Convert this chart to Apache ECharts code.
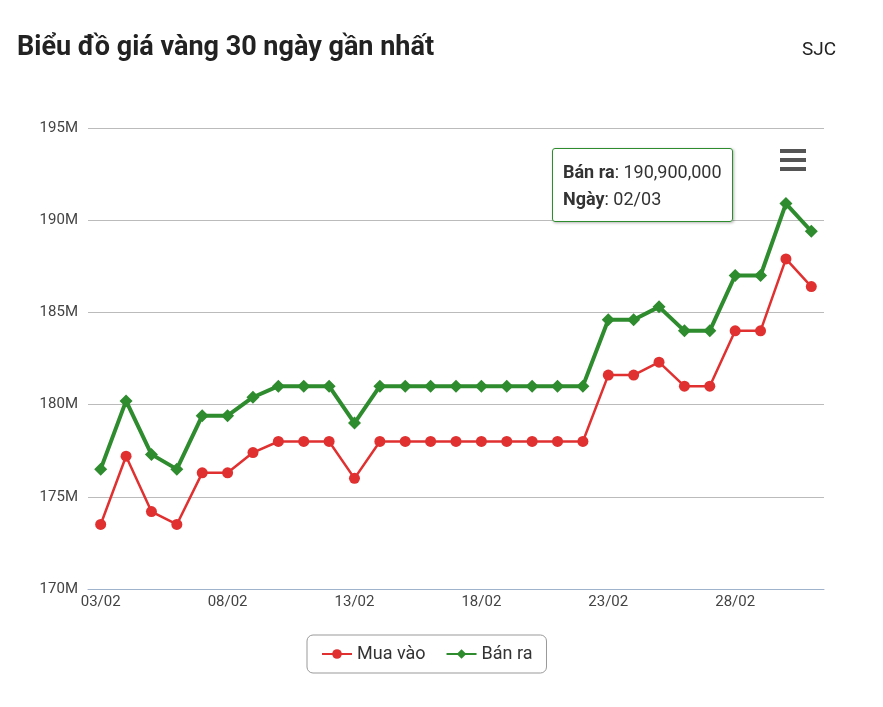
<!DOCTYPE html>
<html><head><meta charset="utf-8">
<script src="https://cdn.jsdelivr.net/npm/echarts@6/dist/echarts.min.js"></script>
<style>html,body{margin:0;padding:0;background:#fff}#c{width:883px;height:707px}</style>
</head><body><div id="c"></div>
<script>
const categories = ["03/02","04/02","05/02","06/02","07/02","08/02","09/02","10/02","11/02","12/02","13/02","14/02","15/02","16/02","17/02","18/02","19/02","20/02","21/02","22/02","23/02","24/02","25/02","26/02","27/02","28/02","01/03","02/03","03/03"];
const muaVao = [173.5,177.2,174.2,173.5,176.3,176.3,177.4,178,178,178,176,178,178,178,178,178,178,178,178,178,181.6,181.6,182.3,181,181,184,184,187.9,186.4];
const banRa = [176.5,180.2,177.3,176.5,179.4,179.4,180.4,181,181,181,179,181,181,181,181,181,181,181,181,181,184.6,184.6,185.3,184,184,187,187,190.9,189.4];
const yTicks = [170,175,180,185,190,195];

const chart = echarts.init(document.getElementById('c'));
const fmtNum = v => Math.round(v*1e6).toLocaleString('en-US');
chart.setOption({
  animation:false,
  title:[{text:'Biểu đồ giá vàng 30 ngày gần nhất',left:12,top:30,textStyle:{fontFamily:'Roboto',fontSize:27,fontWeight:'bold',color:'#222'}},
         {text:'SJC',left:797,top:36,textStyle:{fontFamily:'Roboto',fontSize:19,fontWeight:'normal',color:'#222'}}],
  toolbox:{show:true,right:62,top:134,itemSize:26,feature:{myMenu:{show:true,title:'',icon:'path://M0,0H26V4H0Z M0,9H26V13H0Z M0,18H26V22H0Z',onclick:function(){}}},iconStyle:{color:'#555',borderWidth:0}},
  grid:{left:88,right:59,top:128,bottom:118},
  tooltip:{trigger:'item',alwaysShowContent:true,position:[552,148],backgroundColor:'rgba(255,255,255,0.95)',borderColor:'#2e8b2e',borderWidth:1,borderRadius:3,padding:[9,10],extraCssText:'box-shadow:1px 1px 3px rgba(0,0,0,0.3);',
    textStyle:{fontFamily:'Roboto',fontSize:18,color:'#333'},
    formatter:p=>'<b>'+p.seriesName+'</b>: '+fmtNum(p.value)+'<br/><b>Ngày</b>: '+p.name},
  legend:{bottom:34,left:307,itemGap:20,padding:[10,14],borderColor:'#999',borderWidth:1,borderRadius:6,textStyle:{fontFamily:'Roboto',fontSize:18,color:'#333'},itemWidth:30,itemHeight:12,data:['Mua vào','Bán ra']},
  xAxis:{type:'category',data:categories,boundaryGap:true,
    axisLine:{lineStyle:{color:'#9fb3cc'}},
    axisTick:{alignWithLabel:true,interval:4,length:8,lineStyle:{color:'#9fb3cc'}},
    axisLabel:{interval:4,color:'#444',fontFamily:'Roboto',fontSize:15,margin:6}},
  yAxis:{type:'value',min:170,max:195,interval:5,
    axisLabel:{formatter:v=>v+'M',color:'#444',fontFamily:'Roboto',fontSize:15,margin:10},
    splitLine:{lineStyle:{color:'#bbb'}},axisLine:{show:false},axisTick:{show:false}},
  series:[
    {name:'Mua vào',type:'line',data:muaVao,color:'#e03030',symbol:'circle',symbolSize:11,lineStyle:{width:2.5},itemStyle:{color:'#e03030'}},
    {name:'Bán ra',type:'line',data:banRa,color:'#2e8b2e',symbol:'diamond',symbolSize:13,lineStyle:{width:4},itemStyle:{color:'#2e8b2e'}}
  ]
});
chart.dispatchAction({type:'showTip',seriesIndex:1,dataIndex:27});
</script></body></html>
